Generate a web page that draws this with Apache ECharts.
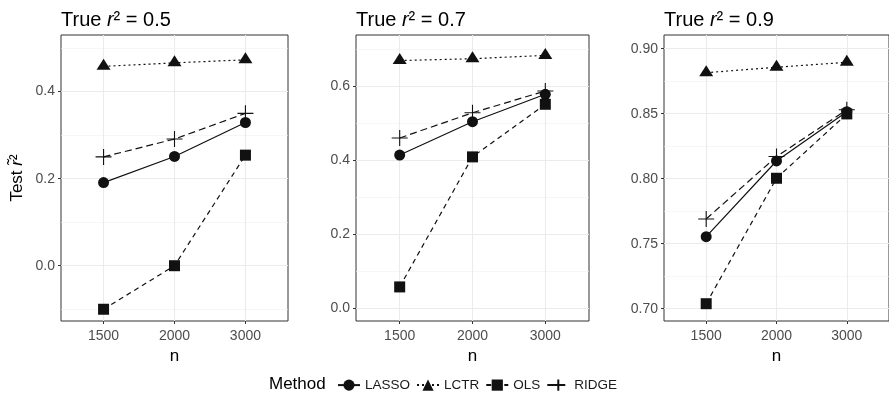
<!DOCTYPE html>
<html>
<head>
<meta charset="utf-8">
<script src="https://cdn.jsdelivr.net/npm/echarts@6/dist/echarts.min.js"></script>
<style>
  html, body { margin: 0; padding: 0; background: #fff; }
  #chart { width: 889px; height: 401px; }
</style>
</head>
<body>
<div id="chart"></div>
<script>
// sample sizes (discrete x) and methods
const nLabels = ['1500', '2000', '3000'];
const methods = ['LASSO', 'LCTR', 'OLS', 'RIDGE'];
const trueR2 = ['0.5', '0.7', '0.9'];

// test r^2, true r^2 = 0.5
const lasso05 = [0.191, 0.251, 0.329];
const lctr05 = [0.458, 0.466, 0.473];
const ols05 = [-0.100, 0.000, 0.254];
const ridge05 = [0.250, 0.291, 0.350];

// test r^2, true r^2 = 0.7
const lasso07 = [0.414, 0.504, 0.578];
const lctr07 = [0.669, 0.674, 0.683];
const ols07 = [0.058, 0.409, 0.551];
const ridge07 = [0.460, 0.528, 0.587];

// test r^2, true r^2 = 0.9
const lasso09 = [0.7554, 0.8136, 0.8515];
const lctr09 = [0.8815, 0.8857, 0.8895];
const ols09 = [0.7038, 0.8003, 0.8498];
const ridge09 = [0.769, 0.817, 0.853];

// y tick values per panel
const majorTicks05 = [0, 0.2, 0.4];
const minorTicks05 = [-0.1, 0.1, 0.3, 0.5];
const majorTicks07 = [0, 0.2, 0.4, 0.6];
const minorTicks07 = [0.1, 0.3, 0.5, 0.7];
const majorTicks09 = [0.70, 0.75, 0.80, 0.85, 0.90];
const minorTicks09 = [0.725, 0.775, 0.825, 0.875];

const panels = [
  { values: [lasso05, lctr05, ols05, ridge05], major: majorTicks05, minor: minorTicks05, digits: 1,
    left: 61, width: 227, min: -0.127, max: 0.53 },
  { values: [lasso07, lctr07, ols07, ridge07], major: majorTicks07, minor: minorTicks07, digits: 1,
    left: 356, width: 233, min: -0.034, max: 0.738 },
  { values: [lasso09, lctr09, ols09, ridge09], major: majorTicks09, minor: minorTicks09, digits: 2,
    left: 664, width: 225, min: 0.6905, max: 0.9105 }
];

const FONT = 'Liberation Sans';
const INK = '#111';

const methodStyle = {
  LASSO: { symbol: 'circle', symbolSize: 11, type: 'solid' },
  LCTR: { symbol: 'triangle', symbolSize: [14, 11], symbolOffset: [0, -2], type: [2, 3] },
  OLS: { symbol: 'rect', symbolSize: 11, type: [5, 4] },
  RIDGE: { symbol: 'path://M10,0L10,20M0,10L20,10', symbolSize: 16, type: [7, 4], hollow: true }
};

const grids = [], xAxes = [], yAxes = [], series = [], titles = [];

panels.forEach(function (p, k) {
  grids.push({
    left: p.left, top: 35, width: p.width, height: 286,
    show: true, backgroundColor: '#fff', borderColor: '#333', borderWidth: 1
  });
  titles.push({
    left: p.left - 5, top: 5,
    text: '{a|True }{i|r}{a|² = ' + trueR2[k] + '}',
    textStyle: {
      fontWeight: 'normal',
      rich: {
        a: { fontFamily: FONT, fontSize: 20, fontWeight: 'normal', color: '#000' },
        i: { fontFamily: FONT, fontSize: 20, fontWeight: 'normal', fontStyle: 'italic', color: '#000' }
      }
    }
  });
  xAxes.push({
    type: 'value', gridIndex: k, min: 0.4, max: 3.6,
    name: 'n', nameLocation: 'middle', nameGap: 27,
    nameTextStyle: { fontFamily: FONT, fontSize: 17, color: '#000' },
    axisLine: { show: false, onZero: false },
    axisTick: { show: true, length: 3, customValues: [1, 2, 3], lineStyle: { color: '#333' } },
    axisLabel: {
      customValues: [1, 2, 3], margin: 8,
      fontFamily: FONT, fontSize: 14, color: '#4d4d4d',
      formatter: function (v) { return nLabels[Math.round(v) - 1]; }
    },
    splitLine: { show: true, lineStyle: { color: '#ebebeb', width: 1.1 } }
  });
  // major axis: ticks, labels, major grid
  yAxes.push({
    type: 'value', gridIndex: k, min: p.min, max: p.max,
    name: k === 0 ? '{a|Test }{i|r̃}{a|²}' : '',
    nameLocation: 'middle', nameGap: 35,
    nameTextStyle: {
      rich: {
        a: { fontFamily: FONT, fontSize: 17, color: '#000' },
        i: { fontFamily: FONT, fontSize: 17, fontStyle: 'italic', color: '#000' }
      }
    },
    axisLine: { show: false, onZero: false },
    axisTick: { show: true, length: 3, customValues: p.major, lineStyle: { color: '#333' } },
    axisLabel: {
      customValues: p.major, margin: 6,
      fontFamily: FONT, fontSize: 14, color: '#4d4d4d',
      formatter: function (v) { return v.toFixed(p.digits); }
    },
    splitLine: { show: true, lineStyle: { color: '#ebebeb', width: 1.1 } }
  });
  // minor grid only
  yAxes.push({
    type: 'value', gridIndex: k, min: p.min, max: p.max,
    axisLine: { show: false, onZero: false },
    axisTick: { show: false, customValues: p.minor },
    axisLabel: { show: false },
    splitLine: { show: true, lineStyle: { color: '#f0f0f0', width: 0.6 } }
  });

  methods.forEach(function (m, j) {
    const st = methodStyle[m];
    series.push({
      name: m, type: 'line',
      xAxisIndex: k, yAxisIndex: k * 2,
      data: p.values[j].map(function (v, i) { return [i + 1, v]; }),
      symbol: st.symbol, symbolSize: st.symbolSize, symbolOffset: st.symbolOffset || [0, 0],
      showSymbol: true,
      lineStyle: { color: INK, width: 1.2, type: st.type },
      itemStyle: st.hollow
        ? { color: 'none', borderColor: INK, borderWidth: 1.1 }
        : { color: INK, borderWidth: 0 },
      emphasis: { disabled: true },
      z: 3
    });
  });
});

const chart = echarts.init(document.getElementById('chart'), null, { renderer: 'canvas' });
chart.setOption({
  animation: false,
  backgroundColor: '#fff',
  title: titles,
  grid: grids,
  xAxis: xAxes,
  yAxis: yAxes,
  legend: {
    data: methods,
    left: 337, top: 377, padding: 0,
    itemWidth: 22, itemHeight: 14, itemGap: 6,
    textStyle: { fontFamily: FONT, fontSize: 13.5, color: '#1a1a1a' }
  },
  graphic: [{
    type: 'text', left: 269, top: 376,
    style: { text: 'Method', font: '17px "Liberation Sans"', fill: '#000' }
  }],
  series: series
});
</script>
</body>
</html>
